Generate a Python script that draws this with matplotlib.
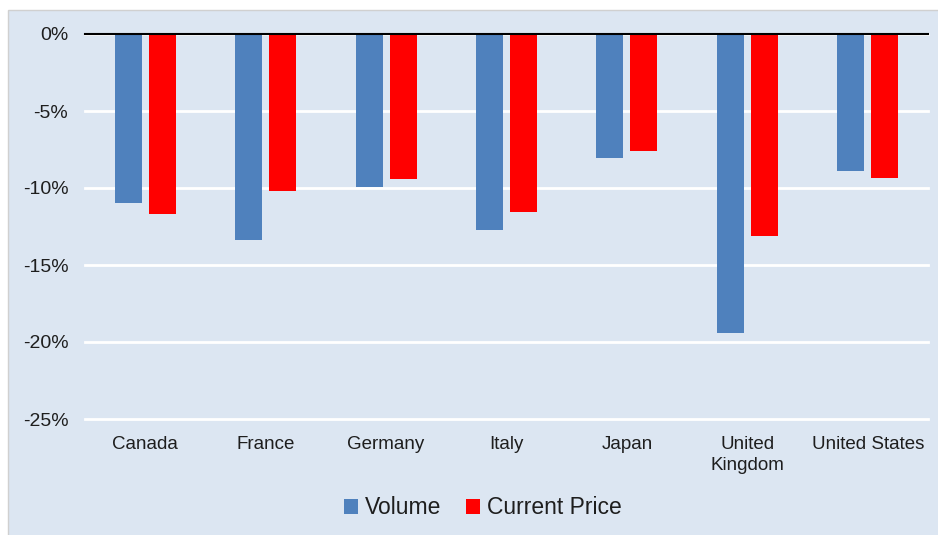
import matplotlib
matplotlib.use('Agg')
import matplotlib.pyplot as plt
from matplotlib.patches import Rectangle
from matplotlib.ticker import FuncFormatter
import numpy as np

# Chart data (percent change)
countries = ['Canada', 'France', 'Germany', 'Italy', 'Japan', 'United\nKingdom', 'United States']
volume = [-11.0, -13.4, -9.95, -12.7, -8.05, -19.4, -8.9]
current_price = [-11.7, -10.2, -9.4, -11.55, -7.6, -13.1, -9.35]
series_names = ['Volume', 'Current Price']

BG = '#DCE6F2'
BLUE = '#4F81BD'
RED = '#FF0000'
TEXT = '#1E1E1E'

plt.rcParams['font.family'] = ['Liberation Sans', 'DejaVu Sans']

fig = plt.figure(figsize=(9.38, 5.35), dpi=100)
fig.patch.set_facecolor('white')

# light blue chart panel with thin border, kept behind the axes
panel = Rectangle((8 / 938, -0.01), 1.0, 1 - 10 / 535 + 0.01, transform=fig.transFigure,
                  facecolor=BG, edgecolor='#D0D0D0', linewidth=1.0, zorder=-10)
fig.patches.append(panel)

ax = fig.add_axes([85 / 938, 1 - 419 / 535, (928 - 85) / 938, (419 - 34) / 535])
ax.set_zorder(1)
ax.patch.set_alpha(0)

x = np.arange(len(countries))
width = 0.224
offset = 0.141
ax.bar(x - offset, volume, width, color=BLUE, label=series_names[0], zorder=3)
ax.bar(x + offset, current_price, width, color=RED, label=series_names[1], zorder=3)

ax.set_xlim(-0.5, len(countries) - 0.5)
ax.set_ylim(-25, 0)
ax.set_yticks(np.arange(-25, 1, 5))
ax.yaxis.set_major_formatter(FuncFormatter(lambda v, p: f'{v:.0f}%'))
ax.grid(axis='y', color='white', linewidth=2)
for gl in ax.get_ygridlines():
    gl.set_clip_on(False)
ax.set_axisbelow(True)
ax.axhline(0, color='black', linewidth=1.5, zorder=4, clip_on=False)

ax.set_xticks(x)
ax.set_xticklabels(countries, fontsize=13.5, color=TEXT, linespacing=1.3)
ax.tick_params(axis='x', length=0, pad=12)
ax.tick_params(axis='y', length=0, pad=12, labelsize=14, labelcolor=TEXT)
for s in ax.spines.values():
    s.set_visible(False)

fig.legend(loc='center', bbox_to_anchor=(483 / 938, 1 - 508 / 535), ncol=2, frameon=False,
           fontsize=16.5, handlelength=0.6, handleheight=0.6, handletextpad=0.3,
           columnspacing=1.1, labelcolor=TEXT)

fig.savefig('out.png', dpi=100, facecolor=fig.get_facecolor())
